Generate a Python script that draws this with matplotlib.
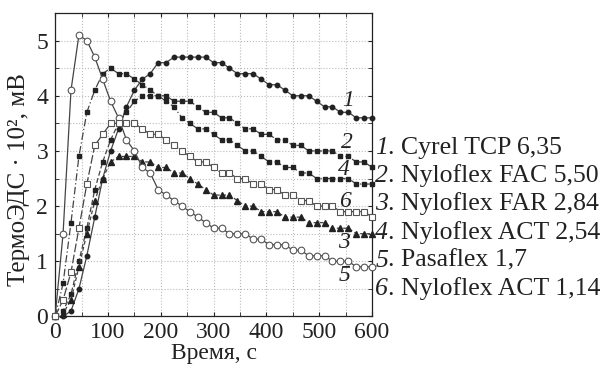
import matplotlib
matplotlib.use("Agg")
import matplotlib.pyplot as plt

# ---------- data ----------

time_s = [0, 15, 30, 45, 60, 75, 90, 105, 120, 135, 150, 165, 180, 195, 210,
          225, 240, 255, 270, 285, 300, 315, 330, 345, 360, 375, 390, 405, 420,
          435, 450, 465, 480, 495, 510, 525, 540, 555, 570, 585, 600]

cyrel_tcp = [0, 0.0, 0.1, 0.5, 1.1, 1.8, 2.5, 3.0, 3.4, 3.8, 4.1, 4.3, 4.4, 4.6, 4.6,
             4.7, 4.7, 4.7, 4.7, 4.7, 4.6, 4.6, 4.5, 4.4, 4.4, 4.4, 4.3, 4.2, 4.2,
             4.1, 4.0, 4.0, 4.0, 3.9, 3.8, 3.8, 3.7, 3.7, 3.6, 3.6, 3.6]
nyl_fac = [0, 0.1, 0.4, 1.0, 1.6, 2.3, 2.8, 3.2, 3.5, 3.7, 3.9, 4.0, 4.0, 4.0, 4.0,
           3.9, 3.9, 3.9, 3.8, 3.7, 3.7, 3.6, 3.6, 3.5, 3.4, 3.4, 3.3, 3.3, 3.2,
           3.2, 3.1, 3.1, 3.0, 3.0, 3.0, 3.0, 2.9, 2.9, 2.8, 2.8, 2.7]
nyl_far = [0, 0.05, 0.3, 0.9, 1.5, 2.1, 2.5, 2.8, 2.9, 2.9, 2.9, 2.8, 2.8, 2.7, 2.7,
           2.6, 2.6, 2.5, 2.4, 2.3, 2.2, 2.2, 2.2, 2.1, 2.0, 2.0, 1.9, 1.9, 1.9,
           1.8, 1.8, 1.8, 1.7, 1.7, 1.7, 1.6, 1.6, 1.6, 1.5, 1.5, 1.5]
nyl_act_254 = [0, 0.6, 1.7, 2.9, 3.7, 4.1, 4.4, 4.5, 4.4, 4.4, 4.3, 4.2, 4.1, 4.0, 3.9,
               3.8, 3.6, 3.5, 3.4, 3.4, 3.3, 3.2, 3.2, 3.1, 3.0, 3.0, 2.9, 2.8, 2.8,
               2.7, 2.7, 2.6, 2.6, 2.5, 2.5, 2.5, 2.5, 2.5, 2.4, 2.4, 2.4]
pasaflex = [0, 1.5, 4.1, 5.1, 5.0, 4.7, 4.3, 3.9, 3.6, 3.2, 3.0, 2.7, 2.6, 2.3, 2.2,
            2.1, 2.0, 1.9, 1.8, 1.7, 1.6, 1.6, 1.5, 1.5, 1.5, 1.4, 1.4, 1.3, 1.3,
            1.3, 1.2, 1.2, 1.1, 1.1, 1.1, 1.0, 1.0, 1.0, 0.9, 0.9, 0.9]
nyl_act_114 = [0, 0.3, 0.8, 1.6, 2.4, 3.1, 3.3, 3.5, 3.5, 3.5, 3.5, 3.4, 3.3, 3.3, 3.2,
               3.1, 3.0, 2.9, 2.8, 2.8, 2.7, 2.6, 2.6, 2.5, 2.5, 2.4, 2.4, 2.3, 2.3,
               2.2, 2.2, 2.1, 2.1, 2.0, 2.0, 2.0, 1.9, 1.9, 1.9, 1.9, 1.8]

curve_nums = ["1", "2", "3", "4", "5", "6"]
curve_names = ["Cyrel TCP 6,35", "Nyloflex FAC 5,50", "Nyloflex FAR 2,84",
               "Nyloflex ACT 2,54", "Pasaflex 1,7", "Nyloflex ACT 1,14"]
# centre of the italic curve numbers (time, value)
num_pos = [(555, 3.92), (553, 3.15), (547, 1.34), (547, 2.66), (547, 0.75), (549, 2.08)]

# ---------- style ----------

plt.rcParams["font.family"] = ["Liberation Serif", "DejaVu Serif"]
plt.rcParams["font.size"] = 17
INK = "#222222"
LINE = "#444444"

fig = plt.figure(figsize=(6.06, 3.71), dpi=100)
ax = fig.add_axes([0.091, 0.147, 0.523, 0.818])

series = [
    (cyrel_tcp, dict(ls="-", marker="o", ms=3.2, mfc=INK, mec=INK)),
    (nyl_fac, dict(ls=(0, (4, 2)), marker="s", ms=2.8, mfc=INK, mec=INK)),
    (nyl_far, dict(ls=(0, (3, 2)), marker="^", ms=4.5, mfc=INK, mec=INK)),
    (nyl_act_254, dict(ls=(0, (6, 2, 1, 2)), marker="s", ms=3.0, mfc=INK, mec=INK)),
    (pasaflex, dict(ls="-", marker="o", ms=4.8, mfc="white", mec="#555555", mew=0.8)),
    (nyl_act_114, dict(ls=(0, (7, 2)), marker="s", ms=4.8, mfc="white", mec="#555555", mew=0.8)),
]
for ys, kw in series:
    ax.plot(time_s, ys, color=LINE, lw=0.9, clip_on=False, zorder=3, **kw)

for (x, y), n in zip(num_pos, curve_nums):
    ax.text(x, y, n, style="italic", fontsize=17, color=INK, ha="center", va="center", zorder=4)

ax.set_xlim(0, 600)
ax.set_ylim(0, 5.5)
ax.set_xticks([0, 100, 200, 300, 400, 500, 600])
ax.set_xticks([50, 150, 250, 350, 450, 550], minor=True)
ax.set_yticks([0, 1, 2, 3, 4, 5])
ax.set_yticks([0.5, 1.5, 2.5, 3.5, 4.5], minor=True)
ax.grid(True, which="both", color="#bbbbbb", ls=":", lw=0.8)
ax.tick_params(which="both", direction="in", top=True, right=True, length=3,
               labelsize=17, colors=INK)
ax.tick_params(axis="x", pad=4)
ax.tick_params(axis="y", pad=5)
for s in ax.spines.values():
    s.set_color(INK)
    s.set_linewidth(0.9)

ax.set_xlabel("Время, с", fontsize=17, color=INK, labelpad=0)
ax.set_ylabel("ТермоЭДС · 10², мВ", fontsize=18, color=INK)
ax.yaxis.set_label_coords(-0.08, 0.45)

# legend as text rows on the right: italic number + plain name
y0 = 0.601
for i, (n, name) in enumerate(zip(curve_nums, curve_names)):
    yy = y0 - i * 0.076
    t1 = fig.text(0.619, yy, n, style="italic", fontsize=18.5, color=INK, va="center")
    ax.annotate(". " + name, xy=(1, 0), xycoords=t1, va="bottom", ha="left",
                fontsize=18.5, color=INK, annotation_clip=False)

fig.savefig("out.png", dpi=100)
